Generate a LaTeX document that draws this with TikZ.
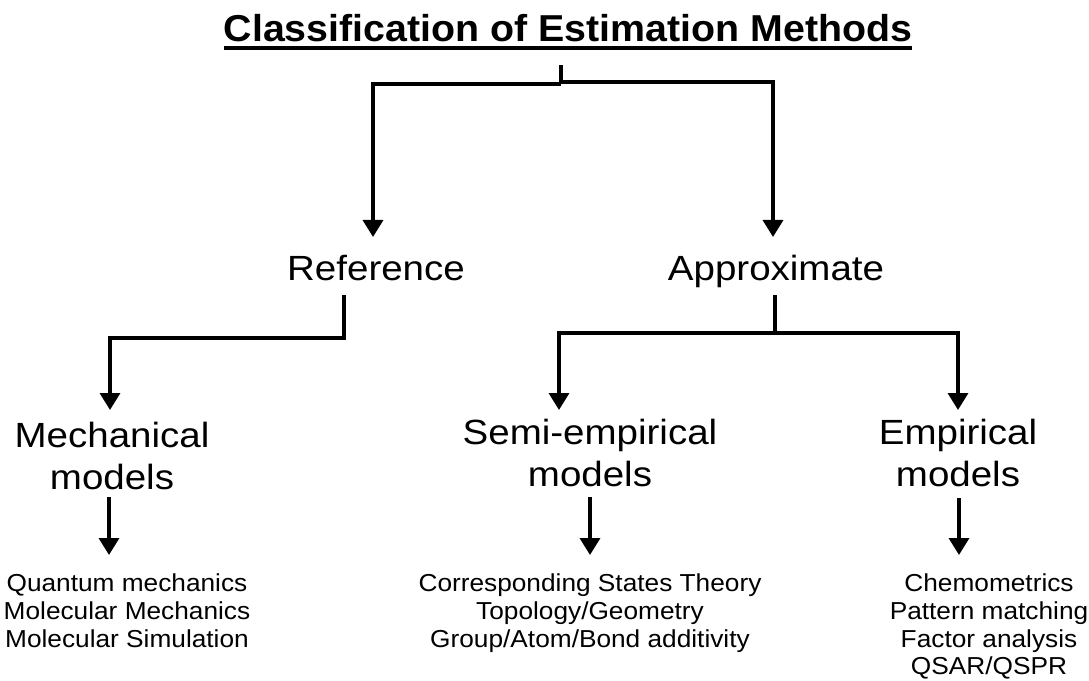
\documentclass[tikz,border=0pt]{standalone}
\usepackage{fontspec}
\usetikzlibrary{arrows.meta}
\newfontfamily\bigf[FakeStretch=1.1]{Liberation Sans}
\newfontfamily\smallf[FakeStretch=1.07]{Liberation Sans}
\newfontfamily\titlef[FakeStretch=1.05]{Liberation Sans}
\begin{document}
\begin{tikzpicture}[x=0.75pt,y=-0.75pt,
  conn/.style={line width=2.6pt},
  arr/.style={conn,-{Triangle[length=12.75pt,width=15pt]}},
  lab/.style={font=\bigf\fontsize{26.25}{31.5}\selectfont,inner sep=0pt,outer sep=0pt,align=center},
  lst/.style={font=\smallf\fontsize{18.4}{20.8}\selectfont,inner sep=0pt,outer sep=0pt,align=center},
  ttl/.style={font=\titlef\bfseries\fontsize{28.1}{32}\selectfont,inner sep=0pt,outer sep=0pt}]
\useasboundingbox (0,0) rectangle (1089,681);
% texts
\node[ttl,anchor=base] (T) at (568,42) {Classification of Estimation Methods};
\draw[line width=2.3pt] ([yshift=-4.5pt]T.base west) -- ([yshift=-4.5pt]T.base east);
\node[lab,anchor=base] (ref) at (376,280) {Reference};
\node[lab,anchor=base] (app) at (776,280) {Approximate};
\node[lab,anchor=north] (mech) at (112,422) {Mechanical\\models};
\node[lab,anchor=north] (semi) at (590,419) {Semi-empirical\\models};
\node[lab,anchor=north] (emp) at (958,419) {Empirical\\models};
\node[lst,anchor=north] (l1) at (127,574) {Quantum mechanics\\Molecular Mechanics\\Molecular Simulation};
\node[lst,anchor=north] (l2) at (590,574) {Corresponding States Theory\\Topology/Geometry\\Group/Atom/Bond additivity};
\node[lst,anchor=north] (l3) at (989,574) {Chemometrics\\Pattern matching\\Factor analysis\\QSAR/QSPR};
% connector points
\coordinate (t0) at (561,65);
\coordinate (t1) at (561,84);
\coordinate (t2) at (561,82);
\coordinate (tL) at (373,84);
\coordinate (tR) at (773,82);
\coordinate (refin) at (373,237);
\coordinate (appin) at (773,237);
\coordinate (r0) at (344,295);
\coordinate (r1) at (344,338);
\coordinate (mechin) at (110,410);
\coordinate (a0) at (775,295);
\coordinate (a1) at (775,333);
\coordinate (semiin) at (559,410);
\coordinate (empin) at (958,410);
\coordinate (m0) at (109,497);
\coordinate (l1in) at (109,555);
\coordinate (s0) at (590,497);
\coordinate (l2in) at (590,555);
\coordinate (e0) at (959,498);
\coordinate (l3in) at (959,555);
% connectors
\draw[conn] (t0) -- (t1);
\draw[arr] (t1) -- (tL) -- (refin);
\draw[arr] (t2) -- (tR) -- (appin);
\draw[arr] (r0) -- (r1) -| (mechin);
\draw[arr] (a0) -- (a1) -| (semiin);
\draw[arr] (a1) -| (empin);
\draw[arr] (m0) -- (l1in);
\draw[arr] (s0) -- (l2in);
\draw[arr] (e0) -- (l3in);
\end{tikzpicture}
\end{document}
